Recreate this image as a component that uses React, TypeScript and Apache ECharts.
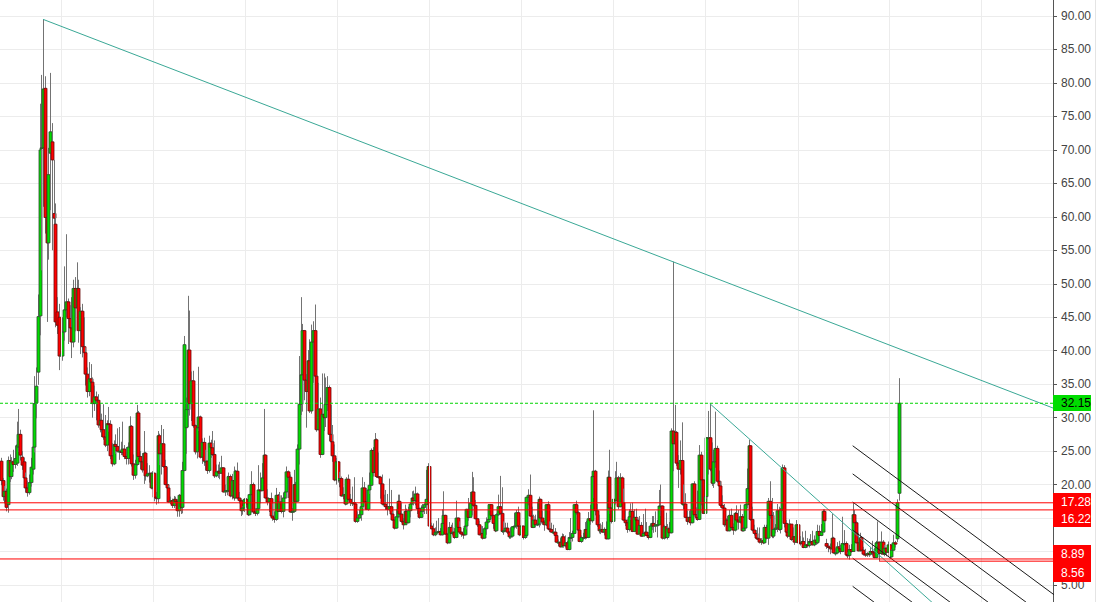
import React, { useEffect, useRef } from 'react';
import * as echarts from 'echarts';

const DAY = 86400000;
const FIRST_WEEK = Date.UTC(2008, 4, 5);
const X_MIN = Date.UTC(2008, 4, 2);
const X_MAX = Date.UTC(2019, 9, 11);

// weekly candles [open, close, low, high]
const ohlc2008 = [
[23.5,20.6,19.9,24.0],[20.6,18.2,17.6,21.0],[18.2,19.0,17.2,19.8],[19.0,16.6,16.0,19.4],[17.0,23.6,15.8,24.2],
[23.6,21.2,20.4,24.5],[21.2,23.4,20.8,24.1],[23.4,23.0,21.9,25.2],[23.0,23.9,22.4,25.8],[23.2,25.9,22.8,29.4],
[25.6,27.5,24.9,31.3],[27.5,24.4,23.6,28.2],[24.1,22.9,22.2,25.0],[23.4,21.0,20.3,24.0],[21.0,19.5,18.8,21.8],
[19.5,18.8,18.2,20.6],[18.8,20.3,18.5,21.5],[20.3,22.6,19.7,24.0],[22.3,25.6,21.5,27.0],[25.6,32.1,24.8,36.2],
[32.2,34.7,29.9,37.5],[36.8,45.1,34.9,48.4],[45.2,70.0,42.3,76.9],[70.2,70.3,52.0,81.2],[70.3,79.1,61.5,89.5],
[79.2,59.9,57.5,81.0],[59.9,56.1,44.3,62.0],[56.1,66.3,53.6,70.3],[69.5,72.7,61.0,81.5],[71.2,68.5,55.0,74.0],
[60.5,59.8,54.0,68.5],[58.9,44.3,43.5,62.0],[45.8,43.8,42.5,48.0],[45.0,39.2,37.1,47.0],[39.2,39.5,37.0,42.0]
];
const ohlc2009 = [
[39.2,42.8,38.5,45.0],[42.8,46.1,41.5,52.6],[46.1,47.3,45.0,57.4],[47.3,44.8,41.0,47.8],[44.8,43.4,42.0,46.8],
[43.4,41.3,38.9,48.0],[41.3,49.3,40.5,50.6],[49.3,46.4,42.9,51.0],[46.4,49.3,45.0,53.2],[49.3,43.0,41.2,50.6],
[43.0,45.9,39.5,46.5],[45.9,40.6,39.0,47.0],[40.6,39.7,37.5,45.0],[39.7,36.5,34.8,40.5],[36.5,33.9,33.0,37.5],
[33.9,35.8,33.2,38.3],[35.8,35.3,34.5,38.0],[35.3,32.1,30.0,36.0],[32.1,33.1,31.0,34.8],[33.1,32.6,29.6,33.9],
[32.6,28.9,28.5,33.5],[28.9,29.6,27.8,32.0],[29.6,28.2,27.1,30.6],[28.2,27.1,26.7,32.0],[27.1,25.9,25.6,30.4],
[25.9,29.1,25.0,29.6],[29.1,29.0,27.9,31.6],[29.0,24.3,23.8,29.6],[24.3,23.1,22.7,26.2],[23.1,26.0,22.9,26.6],
[26.0,25.7,24.6,27.5],[25.7,25.0,24.8,28.4],[25.0,25.0,23.7,28.6],[25.0,24.8,24.4,26.4],[24.8,25.3,24.4,29.4],
[25.3,24.2,23.8,25.9],[24.2,23.9,23.0,25.6],[23.9,25.6,23.0,26.3],[25.6,28.7,25.0,30.2],[28.7,23.1,22.7,28.9],
[23.1,21.4,20.7,24.5],[21.4,23.0,20.9,23.7],[23.0,30.7,22.8,31.9],[30.7,24.2,24.0,31.0],[24.2,23.4,22.3,25.0],
[23.4,22.2,21.8,24.7],[22.2,24.7,20.1,28.0],[24.7,21.3,20.6,24.9],[21.3,21.6,21.1,23.2],[21.6,21.7,20.3,22.9],
[21.7,19.5,19.3,21.8],[19.5,21.7,19.3,22.0]
];
const ohlc2010 = [
[21.7,18.1,17.5,21.8],[18.1,17.9,17.0,18.9],[17.9,27.3,17.2,28.0],[27.3,24.6,22.9,27.6],[24.6,26.1,21.5,28.9],
[26.1,22.7,22.5,28.3],[22.7,20.0,19.9,23.7],[20.0,19.5,19.0,22.6],[19.5,17.4,17.3,19.9],[17.4,17.6,17.1,18.2],
[17.6,16.9,16.5,17.9],[16.9,17.8,16.5,18.3],[17.8,17.5,16.9,18.2],[17.5,16.1,15.2,17.8],[16.1,18.4,15.2,18.6],
[18.4,16.6,15.6,18.5],[16.6,22.1,15.7,23.4],[22.1,40.9,22.0,42.2],[28.5,31.2,24.6,33.0],[31.2,40.1,28.6,48.2],
[40.1,32.1,30.3,46.0],[32.1,35.5,29.5,36.9],[35.5,28.8,28.5,37.0],[28.8,24.9,24.5,29.0],[24.9,28.5,23.9,29.0],
[28.5,30.1,28.0,37.6],[30.1,24.1,23.9,30.3],[24.1,26.3,23.1,26.9],[26.3,23.5,22.8,27.0],[23.5,23.5,22.1,25.2],
[23.5,22.1,21.6,23.6],[22.1,26.2,21.8,27.3],[26.2,25.5,24.0,26.7],[25.5,24.5,24.3,28.0],[24.5,21.3,21.0,26.6],
[21.3,21.9,21.1,23.0],[21.9,22.0,21.0,23.0],[22.0,21.7,20.8,23.4],[21.7,22.5,21.6,24.3],[22.5,18.9,18.8,22.6],
[18.9,19.1,18.3,20.0],[19.1,19.1,18.4,21.3],[19.1,21.2,19.0,21.8],[21.2,18.3,18.1,21.5],[18.3,20.6,17.8,21.6],
[20.6,18.0,17.6,22.7],[18.0,22.0,18.0,22.2],[22.0,18.0,17.8,23.3],[18.0,17.6,17.2,18.9],[17.6,16.1,15.3,17.9],
[16.1,16.5,15.5,16.8],[16.5,17.8,15.9,18.0]
];
const ohlc2011 = [
[17.8,17.1,16.6,18.0],[17.1,15.5,15.3,17.5],[15.5,18.5,15.4,18.6],[18.5,20.0,15.8,22.0],[20.0,15.9,15.6,20.3],
[15.9,15.7,15.3,16.5],[15.7,16.4,15.4,16.9],[16.4,19.2,16.3,22.9],[19.2,19.1,17.2,21.8],[19.1,21.0,19.0,23.2],
[21.0,24.4,20.8,31.3],[24.4,18.0,17.9,24.5],[18.0,17.4,16.9,19.3],[17.4,17.9,15.9,18.0],[17.9,15.3,15.2,18.8],
[15.3,15.0,14.6,17.2],[15.0,14.8,14.3,16.0],[14.8,18.4,14.6,19.5],[18.4,16.0,15.9,18.6],[16.0,17.4,15.9,18.9],
[17.4,16.0,15.7,18.4],[16.0,18.0,15.1,18.8],[18.0,18.9,17.9,19.7],[18.9,21.9,18.0,22.7],[21.9,21.1,18.0,22.1],
[21.1,15.9,15.8,21.5],[15.9,16.0,14.6,16.5],[16.0,20.0,15.8,22.2],[20.0,17.5,17.3,20.4],[17.5,25.3,17.4,26.0],
[25.3,32.0,23.0,39.2],[32.0,36.4,30.4,48.0],[36.4,43.0,30.9,44.0],[43.0,35.6,32.6,43.1],[35.6,33.9,28.5,36.5],
[33.9,38.5,32.8,40.1],[38.5,31.0,30.7,41.7],[31.0,41.3,30.6,43.9],[41.3,43.0,35.2,44.4],[43.0,36.2,35.5,46.9],
[36.2,28.2,27.9,36.3],[28.2,31.3,28.1,35.2],[31.3,24.5,24.0,33.0],[24.5,30.5,24.4,36.6],[30.5,30.0,28.0,36.6],
[30.0,32.0,28.6,36.0],[32.0,34.5,31.0,36.2],[34.5,27.5,26.5,34.8],[27.5,26.4,26.1,31.9],[26.4,24.3,23.4,28.9],
[24.3,20.7,20.5,26.0],[20.7,23.4,20.0,24.0]
];
const ohlc2012 = [
[23.4,20.6,20.3,23.5],[20.6,20.9,19.6,21.9],[20.9,18.3,18.2,21.2],[18.3,18.5,17.8,19.6],[18.5,17.1,16.9,20.4],
[17.1,20.8,17.0,21.1],[20.8,17.8,17.6,21.5],[17.8,17.3,16.8,18.6],[17.3,17.3,16.8,19.7],[17.3,17.1,16.7,21.1],
[17.1,14.5,14.3,17.2],[14.5,15.0,14.3,16.0],[15.0,15.5,14.9,16.2],[15.5,16.7,14.6,17.0],[16.7,19.5,16.5,21.1],
[19.5,17.4,17.3,20.4],[17.4,16.3,16.2,19.5],[16.3,19.2,16.1,19.5],[19.2,19.9,18.6,21.8],[19.9,25.1,19.8,25.4],
[25.1,21.8,21.2,25.6],[21.8,26.7,21.6,27.7],[26.7,21.2,21.0,26.9],[21.2,21.1,20.9,24.8],[21.1,20.1,17.9,21.3],
[20.1,17.1,16.9,21.5],[17.1,17.1,16.7,18.5],[17.1,16.7,16.2,19.2],[16.7,16.3,15.4,18.6],[16.3,16.7,16.0,20.9],
[16.7,15.6,15.3,19.2],[15.6,14.7,14.6,16.0],[14.7,13.5,13.3,15.2],[13.5,15.2,13.4,16.3],[15.2,17.5,15.0,18.5],
[17.5,15.6,15.1,18.5],[15.6,14.5,14.3,17.3],[14.5,14.0,13.3,15.0],[14.0,16.0,14.0,17.0],[16.0,14.3,14.2,16.4],
[14.3,16.1,14.2,16.7],[16.1,17.1,15.1,17.3],[17.1,18.0,17.0,19.0],[18.0,17.6,16.9,19.1],[17.6,18.6,16.9,19.7],
[18.6,16.4,15.6,18.8],[16.4,15.1,14.9,16.6],[15.1,16.0,15.0,16.9],[16.0,16.6,15.6,17.1],[16.6,17.0,15.6,17.2],
[17.0,17.8,15.6,22.2],[17.8,22.7,17.7,23.2],[22.7,13.8,13.7,23.2]
];
const ohlc2013 = [
[13.8,13.4,13.3,14.3],[13.4,12.5,12.3,14.2],[12.5,12.9,12.3,13.6],[12.9,12.9,12.7,14.6],[12.9,13.0,12.8,15.0],
[13.0,12.5,12.4,13.5],[12.5,14.2,12.4,16.3],[14.2,15.4,13.0,19.0],[15.4,12.6,12.5,15.5],[12.6,11.3,11.1,12.8],
[11.3,13.6,11.2,14.4],[13.6,12.7,12.6,14.0],[12.7,12.9,12.4,14.3],[12.9,12.1,11.9,13.5],[12.1,15.0,12.0,17.6],
[15.0,13.6,13.2,15.1],[13.6,12.9,12.6,14.5],[12.9,12.6,12.2,13.0],[12.6,12.5,11.9,13.5],[12.5,13.8,12.4,15.1],
[13.8,16.3,13.3,16.4],[16.3,15.1,14.6,18.0],[15.1,17.2,15.1,18.9],[17.2,18.9,15.4,21.9],[18.9,16.9,16.7,21.1],
[16.9,14.9,14.8,17.7],[14.9,14.0,13.7,15.0],[14.0,12.5,12.4,14.6],[12.5,12.7,12.2,13.8],[12.7,12.0,11.8,13.8],
[12.0,13.4,11.9,13.6],[13.4,14.4,12.5,15.1],[14.4,14.8,14.2,17.1],[14.8,17.0,14.6,17.1],[17.0,15.4,15.2,17.1],
[15.4,14.2,13.4,15.5],[14.2,13.1,12.9,15.4],[13.1,15.5,13.0,15.7],[15.5,16.7,15.3,18.5],[16.7,15.7,15.5,21.3],
[15.7,13.0,12.8,19.6],[13.0,13.1,12.5,14.5],[13.1,13.5,12.9,14.3],[13.5,12.9,12.6,14.3],[12.9,12.2,11.9,13.1],
[12.2,12.3,11.9,13.6],[12.3,13.7,12.1,13.8],[13.7,13.8,13.3,15.8],[13.8,15.8,13.4,16.2],[15.8,13.8,13.7,16.7],
[13.8,12.5,12.3,13.9],[12.5,13.8,12.4,14.2]
];
const ohlc2014 = [
[13.8,12.1,11.8,13.9],[12.1,12.4,11.9,13.8],[12.4,18.1,12.3,18.2],[18.1,18.4,16.9,19.3],[18.4,15.3,15.2,21.5],
[15.3,13.6,13.5,16.7],[13.6,14.7,13.5,15.5],[14.7,14.0,13.6,15.5],[14.0,14.1,13.8,17.4],[14.1,17.8,13.6,18.2],
[17.8,15.0,13.9,17.9],[15.0,14.4,14.0,16.1],[14.4,14.0,13.1,14.7],[14.0,17.0,13.8,17.1],[17.0,13.4,13.3,17.5],
[13.4,13.3,12.9,14.5],[13.3,12.9,12.8,14.3],[12.9,12.9,12.6,14.0],[12.9,12.4,11.8,13.5],[12.4,11.4,11.3,12.5],
[11.4,11.4,10.8,11.8],[11.4,10.7,10.6,12.0],[10.7,12.2,10.6,12.7],[12.2,10.9,10.6,12.6],[10.9,11.3,10.6,12.4],
[11.3,10.3,10.2,11.6],[10.3,12.1,10.2,12.9],[12.1,12.1,11.4,15.0],[12.1,12.7,11.5,13.1],[12.7,17.0,12.6,17.1],
[17.0,15.8,15.5,17.6],[15.8,13.2,13.0,16.1],[13.2,11.5,11.4,13.3],[11.5,12.1,11.3,12.4],[12.1,12.1,11.7,12.8],
[12.1,13.3,11.8,14.4],[13.3,12.1,11.9,14.6],[12.1,14.9,12.0,15.9],[14.9,14.6,14.0,17.0],[14.6,21.2,14.3,22.0],
[21.2,22.0,18.0,31.1],[22.0,16.1,15.4,22.2],[16.1,14.0,13.7,17.1],[14.0,13.1,12.7,15.5],[13.1,13.3,12.6,14.2],
[13.3,12.9,12.8,14.4],[12.9,13.3,12.4,13.6],[13.3,11.9,11.8,14.5],[11.9,21.1,11.8,22.1],[21.1,16.5,15.6,25.2],
[16.5,14.5,14.2,16.6],[14.5,17.8,14.2,20.0]
];
const ohlc2015 = [
[17.8,17.6,17.0,22.0],[17.6,21.0,17.5,23.4],[21.0,16.7,16.3,21.3],[16.7,21.0,16.6,21.7],[21.0,17.3,16.7,21.2],
[17.3,14.7,14.6,19.4],[14.7,14.3,13.8,16.3],[14.3,13.3,12.8,14.8],[13.3,15.2,13.0,16.3],[15.2,16.0,14.7,17.2],
[16.0,13.0,12.9,17.3],[13.0,15.1,12.9,16.3],[15.1,14.7,14.4,16.4],[14.7,12.6,12.5,15.1],[12.6,13.9,12.6,15.3],
[13.9,12.3,12.2,14.4],[12.3,12.7,12.3,15.6],[12.7,12.9,12.6,16.4],[12.9,12.4,12.3,14.4],[12.4,12.1,11.8,12.9],
[12.1,13.8,12.0,14.2],[13.8,14.2,13.2,15.3],[14.2,13.8,12.8,15.3],[13.8,14.0,12.9,16.0],[14.0,14.0,12.1,14.7],
[14.0,16.8,13.9,19.2],[16.8,16.8,15.3,20.0],[16.8,12.0,11.8,16.9],[12.0,13.7,11.8,14.0],[13.7,12.1,12.0,15.8],
[12.1,13.4,11.8,14.1],[13.4,12.8,12.3,14.4],[12.8,28.0,12.7,28.4],[28.0,26.1,22.0,53.3],[26.1,27.8,24.0,31.9],
[27.8,23.2,22.8,28.0],[23.2,22.3,19.5,24.4],[22.3,23.6,21.5,26.6],[23.6,17.1,17.0,29.3],[17.1,17.1,16.3,20.0],
[17.1,15.1,15.0,18.7],[15.1,14.5,14.0,16.1],[14.5,15.1,14.3,16.1],[15.1,14.3,13.9,16.3],[14.3,20.1,14.2,20.2],
[20.1,15.5,15.4,20.5],[15.5,15.1,14.7,16.6],[15.1,14.8,14.6,19.1],[14.8,24.4,14.7,25.9],[24.4,20.7,16.9,24.9],
[20.7,15.7,15.6,20.8],[15.7,18.2,15.5,18.6]
];
const ohlc2016 = [
[18.2,27.0,17.9,27.1],[27.0,27.0,21.5,31.0],[27.0,22.3,22.0,32.1],[22.3,20.2,19.8,26.3],[20.2,23.4,19.5,25.2],
[23.4,25.4,22.5,30.9],[25.4,20.5,20.3,25.8],[20.5,19.8,19.1,22.1],[19.8,16.9,16.6,20.5],[16.9,16.5,16.4,18.4],
[16.5,14.0,13.7,17.1],[14.0,14.7,13.8,15.0],[14.7,13.1,13.0,15.3],[13.1,15.4,13.0,16.2],[15.4,13.6,13.2,16.4],
[13.6,13.2,12.5,14.2],[13.2,15.7,13.0,15.9],[15.7,14.7,14.6,16.9],[14.7,14.4,13.3,16.2],[14.4,15.2,14.2,17.0],
[15.2,13.1,13.0,15.6],[13.1,13.5,13.0,15.0],[13.5,17.0,13.1,17.1],[17.0,19.4,16.5,22.4],[19.4,25.8,17.4,26.7],
[25.8,14.8,14.6,25.9],[14.8,13.2,13.0,16.7],[13.2,12.7,12.4,14.0],[12.7,12.0,11.9,13.2],[12.0,11.9,11.7,13.6],
[11.9,11.4,11.2,13.6],[11.4,11.6,11.0,12.0],[11.6,11.3,11.1,12.7],[11.3,13.6,11.2,14.0],[13.6,12.0,11.8,14.0],
[12.0,17.5,11.0,18.0],[17.5,15.4,14.9,20.5],[15.4,12.3,12.0,18.0],[12.3,13.3,12.0,15.9],[13.3,13.5,12.7,14.1],
[13.5,16.1,12.9,17.1],[16.1,13.3,13.1,16.7],[13.3,16.2,12.7,16.5],[16.2,22.5,16.1,23.0],[22.5,14.2,13.6,22.9],
[14.2,12.9,12.5,14.7],[12.9,12.3,12.0,13.0],[12.3,14.1,12.2,14.8],[14.1,11.8,11.6,14.1],[11.8,12.2,11.5,13.6],
[12.2,11.4,11.0,12.3],[11.4,14.0,11.3,14.7]
];
const ohlc2017 = [
[14.0,11.3,11.0,14.2],[11.3,11.2,10.9,12.3],[11.2,11.5,11.1,13.0],[11.5,10.6,10.5,12.1],[10.6,11.0,10.5,13.1],
[11.0,10.9,10.6,12.0],[10.9,11.5,10.6,11.9],[11.5,11.5,10.9,12.6],[11.5,11.0,10.9,13.1],[11.0,11.7,10.8,12.4],
[11.7,11.3,11.0,13.0],[11.3,13.0,11.1,14.0],[13.0,12.4,11.5,13.9],[12.4,12.9,12.3,14.1],[12.9,16.0,12.9,16.3],
[16.0,14.6,14.3,16.3],[11.2,10.8,10.4,11.9],[10.8,10.6,9.9,11.2],[10.6,10.4,9.6,11.2],[10.4,12.0,10.2,15.6],
[12.0,9.8,9.7,12.2],[9.8,9.8,9.4,10.5],[9.8,10.7,9.6,11.4],[10.7,10.4,9.9,11.6],[10.4,10.0,9.6,11.0],
[10.0,11.2,9.9,15.2],[11.2,11.2,10.9,13.2],[11.2,9.5,9.4,11.5],[9.5,9.4,9.0,9.9],[9.4,10.3,8.8,11.0],
[10.3,10.0,9.8,11.1],[10.0,15.5,10.0,17.28],[15.5,14.3,11.6,16.2],[14.3,11.3,11.2,14.6],[11.3,10.1,10.0,12.8],
[10.1,12.1,10.0,12.8],[12.1,10.2,10.1,12.2],[10.2,9.6,9.4,10.7],[9.6,9.5,9.2,10.4],[9.5,9.7,9.2,9.9],
[9.7,9.6,9.2,10.1],[9.6,10.0,9.4,10.7],[10.0,9.8,9.4,11.6],[9.8,9.1,9.0,10.5],[9.1,11.3,9.0,11.6],
[11.3,11.4,10.8,14.5],[11.4,9.7,8.56,11.5],[9.7,11.4,9.5,13.0],[11.4,9.6,9.5,11.7],[9.6,10.5,9.3,11.0],
[10.5,9.9,9.3,10.6],[9.9,11.0,9.8,11.5]
];
const ohlc2018 = [
[11.0,9.2,8.9,11.1],[9.2,10.2,9.1,10.4],[10.2,11.3,10.1,12.5],[11.3,11.1,10.6,11.6],[11.9,17.3,11.4,17.8],[18.7,32.15,17.6,35.9]
];

const yearLines = [2009, 2010, 2011, 2012, 2013, 2014, 2015, 2016, 2017, 2018, 2019];

// horizontal levels
const levelValues = [32.15, 17.28, 16.22, 8.89, 8.56];
const levelStarts = [X_MIN, X_MIN, X_MIN, X_MIN, Date.UTC(2017, 10, 20)];

// trend lines (anchor points)
const peakTrend = [[Date.UTC(2008, 9, 20), 89.5], [Date.UTC(2015, 7, 24), 53.3]];
const fallTrend = [[Date.UTC(2016, 0, 18), 32.1], [Date.UTC(2018, 5, 30), 2.0]];
const channelStart = Date.UTC(2017, 7, 7);
const channelEnd = Date.UTC(2019, 11, 31);
const channelStartValues = [25.8, 21.6, 17.4, 13.2, 9.0, 4.8];
const channelEndValues = [1.4, -2.8, -7.0, -11.2, -15.4, -19.6];

const TEAL = '#3aa896';
const FONT = 'Liberation Sans, Arial, sans-serif';

export default function App() {
  const ref = useRef<HTMLDivElement>(null);
  useEffect(() => {
    if (!ref.current) return;
    const chart = echarts.init(ref.current, null, { renderer: 'svg' });
    const all = [...ohlc2008, ...ohlc2009, ...ohlc2010, ...ohlc2011, ...ohlc2012, ...ohlc2013,
      ...ohlc2014, ...ohlc2015, ...ohlc2016, ...ohlc2017, ...ohlc2018];
    const candles = all.map((d, i) => [FIRST_WEEK + i * 7 * DAY, d[0], d[1], d[2], d[3]]);

    const [[t1, v1], [t2, v2]] = peakTrend;
    const peakEnd = v1 + (v2 - v1) * (X_MAX - t1) / (t2 - t1);

    const lineSeries = (data: number[][], color: string, type: any = 'solid', z = 6) => ({
      type: 'line', data, showSymbol: false, symbol: 'none', silent: true, clip: true, z,
      lineStyle: { color, width: 1, type }, animation: false,
    });

    const overlay: any[] = [];
    overlay.push(lineSeries([peakTrend[0], [X_MAX, peakEnd]], TEAL));
    overlay.push(lineSeries(fallTrend, TEAL));
    channelStartValues.forEach((v, k) => {
      overlay.push(lineSeries([[channelStart, v], [channelEnd, channelEndValues[k]]], '#1a1a1a'));
    });
    levelValues.forEach((v, k) => {
      overlay.push(lineSeries([[levelStarts[k], v], [X_MAX, v]], k === 0 ? '#00d400' : '#ff0000', k === 0 ? [3, 2] : 'solid', 7));
    });

    const tagDefs = [
      { top: 395, h: 16, bg: '#00dd00', fg: '#000000' },
      { top: 493, h: 17, bg: '#ff0000', fg: '#ffffff' },
      { top: 510, h: 17, bg: '#ff0000', fg: '#ffffff' },
      { top: 545, h: 18, bg: '#ff0000', fg: '#ffffff' },
      { top: 563, h: 19, bg: '#ff0000', fg: '#ffffff' },
    ];
    const graphics: any[] = [
      { type: 'line', z: 90, shape: { x1: 1095.5, y1: 0, x2: 1095.5, y2: 602 }, style: { stroke: '#e4e4e4', lineWidth: 1 } },
    ];
    levelValues.forEach((v, k) => {
      const t = tagDefs[k];
      graphics.push({ type: 'rect', z: 100, shape: { x: 1053, y: t.top, width: 38, height: t.h }, style: { fill: t.bg } });
      graphics.push({ type: 'text', z: 101, x: 1061, y: t.top + t.h / 2, style: { text: v.toFixed(2), fill: t.fg, font: `12px ${FONT}`, verticalAlign: 'middle', align: 'left' } });
    });

    chart.setOption({
      animation: false,
      backgroundColor: '#ffffff',
      grid: { left: 0, right: 43, top: -17.47, bottom: -16.47, containLabel: false, outerBoundsMode: 'none' },
      xAxis: {
        type: 'time', min: X_MIN, max: X_MAX,
        axisLine: { show: false }, axisTick: { show: false }, axisLabel: { show: false }, splitLine: { show: false },
      },
      yAxis: {
        type: 'value', position: 'right', min: 0, max: 95, interval: 5,
        axisLine: { show: true, lineStyle: { color: '#555555', width: 1 } },
        axisTick: { show: true, length: 4, lineStyle: { color: '#555555' } },
        axisLabel: {
          color: '#444444', fontSize: 12, fontFamily: FONT, margin: 8,
          showMinLabel: false, showMaxLabel: false,
          formatter: (v: number) => v.toFixed(2),
        },
        splitLine: { show: true, lineStyle: { color: '#ececec', width: 1 } },
      },
      graphic: graphics,
      series: [
        {
          type: 'line', data: [], silent: true, z: 1,
          markLine: {
            silent: true, symbol: 'none', animation: false, label: { show: false },
            lineStyle: { color: '#ececec', type: 'solid', width: 1 },
            data: yearLines.map((y) => ({ xAxis: Date.UTC(y, 0, 1) })),
          },
        },
        {
          type: 'custom', z: 3, clip: true,
          encode: { x: 0, y: [1, 2, 3, 4] },
          data: candles,
          renderItem: (params: any, api: any) => {
            const t = api.value(0), o = api.value(1), c = api.value(2), l = api.value(3), h = api.value(4);
            const pO = api.coord([t, o]), pC = api.coord([t, c]), pL = api.coord([t, l]), pH = api.coord([t, h]);
            const x = Math.round(pO[0]) + 0.5;
            const top = Math.min(pO[1], pC[1]);
            const bot = Math.max(pO[1], pC[1]);
            const up = c >= o;
            return {
              type: 'group',
              children: [
                { type: 'line', shape: { x1: x, y1: pH[1], x2: x, y2: pL[1] }, style: { stroke: '#737373', lineWidth: 1 } },
                {
                  type: 'rect', shape: { x: x - 1.5, y: top, width: 3, height: Math.max(bot - top, 1) },
                  style: { fill: up ? '#00dd00' : '#ff0000', stroke: up ? '#2e4a2e' : '#6a0a0a', lineWidth: 0.8 },
                },
              ],
            };
          },
        },
        ...overlay,
      ],
    });
    return () => chart.dispose();
  }, []);
  return <div ref={ref} style={{ position: 'fixed', left: 0, top: 0, width: 1096, height: 602, background: '#fff' }} />;
}
